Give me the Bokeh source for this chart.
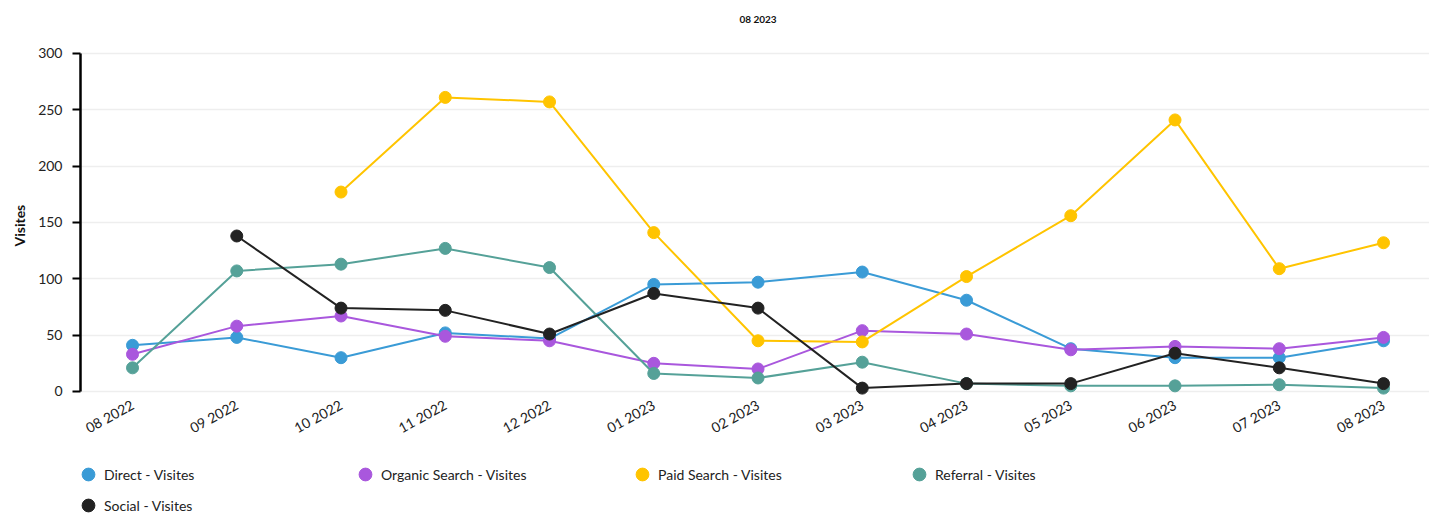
import math
from bokeh.plotting import figure
from bokeh.models import Legend, LegendItem, FixedTicker, Range1d, ColumnDataSource, Title, Label
from bokeh.embed import file_html
from bokeh.resources import INLINE

nan = float("nan")

months = ["08 2022", "09 2022", "10 2022", "11 2022", "12 2022", "01 2023", "02 2023",
          "03 2023", "04 2023", "05 2023", "06 2023", "07 2023", "08 2023"]
direct = [41, 48, 30, 52, 47, 95, 97, 106, 81, 38, 30, 30, 45]
organic = [33, 58, 67, 49, 45, 25, 20, 54, 51, 37, 40, 38, 48]
paid = [nan, nan, 177, 261, 257, 141, 45, 44, 102, 156, 241, 109, 132]
referral = [21, 107, 113, 127, 110, 16, 12, 26, 7, 5, 5, 6, 3]
social = [nan, 138, 74, 72, 51, 87, 74, 3, 7, 7, 34, 21, 7]
y_ticks = [0, 50, 100, 150, 200, 250, 300]

series_names = ["Direct - Visites", "Organic Search - Visites", "Paid Search - Visites",
                "Referral - Visites", "Social - Visites"]
series_values = [direct, organic, paid, referral, social]
series_colors = ["#3a9bd6", "#a957dd", "#ffc400", "#55a198", "#222222"]

FONT = "Lato"

# frame covers the whole height; value axis limited to 0..300 via bounds
p = figure(width=1429, height=519, output_backend="svg", toolbar_location=None,
           x_range=Range1d(-0.499, 12.441), y_range=Range1d(-113.6, 347.0),
           min_border_left=80, min_border_right=0,
           min_border_top=0, min_border_bottom=0)

p.outline_line_color = None
p.background_fill_color = "white"
p.border_fill_color = "white"

xs = list(range(len(months)))
items = []
for name, vals, col in zip(series_names, series_values, series_colors):
    src = ColumnDataSource(dict(x=xs, y=vals))
    p.line("x", "y", source=src, line_color=col, line_width=2)
    r = p.scatter("x", "y", source=src, size=12, fill_color=col, line_color=col)
    items.append(LegendItem(label=name, renderers=[r]))

# chart title
p.add_layout(Label(x=6.0, y=331, text="08 2023", text_align="center",
                   text_baseline="middle", text_font=FONT, text_font_size="10px",
                   text_font_style="bold", text_color="#111111"))

# x axis drawn at y = 0
p.xaxis.fixed_location = 0
p.xaxis.ticker = FixedTicker(ticks=xs)
p.xaxis.major_label_overrides = {i: m for i, m in enumerate(months)}
p.xaxis.axis_line_color = None
p.xaxis.major_tick_line_color = None
p.xaxis.minor_tick_line_color = None
p.xaxis.major_label_orientation = 0.5
p.xaxis.major_label_text_font = FONT
p.xaxis.major_label_text_font_size = "14px"
p.xaxis.major_label_text_color = "#222222"
p.xaxis.major_label_standoff = 6
p.xgrid.grid_line_color = None

# y axis
p.yaxis.bounds = (0, 300)
p.yaxis.ticker = FixedTicker(ticks=y_ticks)
p.yaxis.axis_line_color = "black"
p.yaxis.axis_line_width = 2.5
p.yaxis.major_tick_line_color = "black"
p.yaxis.major_tick_line_width = 2
p.yaxis.major_tick_out = 8
p.yaxis.major_tick_in = 0
p.yaxis.minor_tick_line_color = None
p.yaxis.major_label_text_font = FONT
p.yaxis.major_label_text_font_size = "14px"
p.yaxis.major_label_text_color = "#222222"
p.yaxis.major_label_standoff = 10
p.ygrid.grid_line_color = "#eeeeee"
p.ygrid.grid_line_width = 1.5

ylabel = Title(text="Visites", align="left", offset=273, standoff=15,
               text_font=FONT, text_font_size="14px", text_font_style="bold",
               text_color="#111111")
p.add_layout(ylabel, "left")

legend_style = dict(orientation="horizontal",
                    glyph_width=32, glyph_height=32, label_standoff=0,
                    label_width=241, spacing=4, padding=0, margin=0,
                    border_line_color=None, background_fill_alpha=0,
                    label_text_font=FONT, label_text_font_size="14px",
                    label_text_color="#222222")
legend1 = Legend(items=items[:4], location=(-8, 29), **legend_style)
legend2 = Legend(items=items[4:], location=(-8, -2), **legend_style)
p.add_layout(legend1)
p.add_layout(legend2)

open("out.html", "w").write(file_html(p, INLINE))
